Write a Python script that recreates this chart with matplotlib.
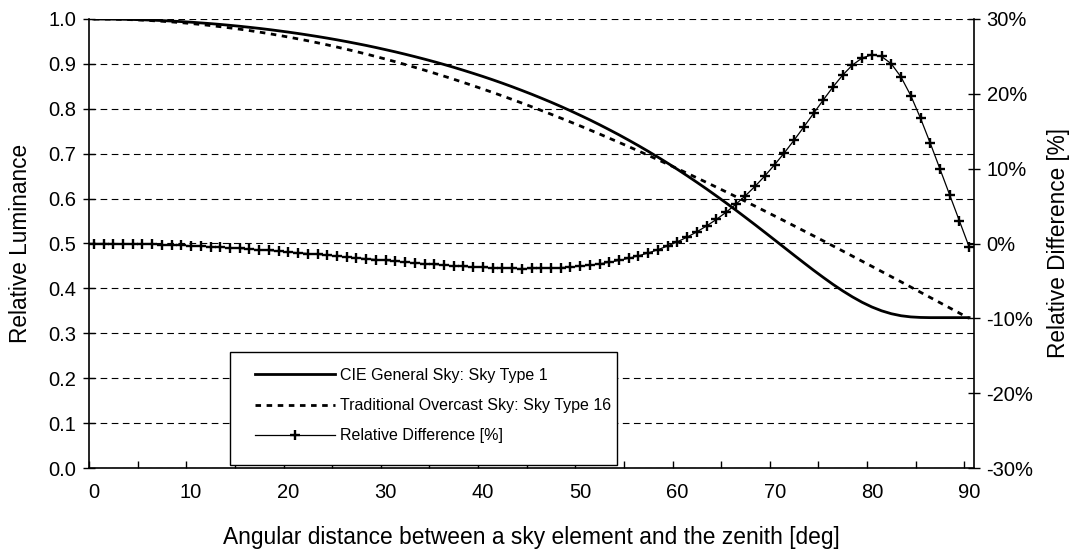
import matplotlib
matplotlib.use("Agg")
import matplotlib.pyplot as plt
from matplotlib.patches import Rectangle
from matplotlib.ticker import FuncFormatter, MultipleLocator, FixedLocator

plt.rcParams['font.family'] = ['Liberation Sans', 'DejaVu Sans']

# angular distance from the zenith, 1 degree steps
angle = list(range(0, 91))

# CIE General Sky, sky type 1 (relative luminance)
cie_sky1 = [
    1.0000, 0.9999, 0.9997, 0.9994, 0.9989, 0.9982, 0.9974, 0.9965, 0.9954, 0.9942,
    0.9929, 0.9913, 0.9897, 0.9879, 0.9859, 0.9838, 0.9815, 0.9791, 0.9765, 0.9737,
    0.9708, 0.9677, 0.9644, 0.9610, 0.9574, 0.9536, 0.9496, 0.9454, 0.9411, 0.9365,
    0.9317, 0.9268, 0.9216, 0.9162, 0.9106, 0.9048, 0.8987, 0.8924, 0.8858, 0.8790,
    0.8720, 0.8647, 0.8571, 0.8492, 0.8410, 0.8326, 0.8238, 0.8148, 0.8054, 0.7957,
    0.7856, 0.7753, 0.7645, 0.7534, 0.7420, 0.7301, 0.7179, 0.7053, 0.6923, 0.6789,
    0.6652, 0.6510, 0.6364, 0.6215, 0.6061, 0.5905, 0.5745, 0.5581, 0.5416, 0.5248,
    0.5079, 0.4909, 0.4739, 0.4571, 0.4405, 0.4245, 0.4090, 0.3945, 0.3811, 0.3690,
    0.3586, 0.3501, 0.3436, 0.3391, 0.3365, 0.3353, 0.3349, 0.3349, 0.3349, 0.3349,
    0.3349,
]

# traditional overcast sky, sky type 16
overcast_sky16 = [
    1.0000, 0.9999, 0.9996, 0.9991, 0.9984, 0.9975, 0.9963, 0.9950, 0.9935, 0.9918,
    0.9899, 0.9878, 0.9854, 0.9829, 0.9802, 0.9773, 0.9742, 0.9709, 0.9674, 0.9637,
    0.9598, 0.9557, 0.9515, 0.9470, 0.9424, 0.9375, 0.9325, 0.9273, 0.9220, 0.9164,
    0.9107, 0.9048, 0.8987, 0.8924, 0.8860, 0.8794, 0.8727, 0.8658, 0.8587, 0.8514,
    0.8440, 0.8365, 0.8288, 0.8209, 0.8129, 0.8047, 0.7964, 0.7880, 0.7794, 0.7707,
    0.7619, 0.7529, 0.7438, 0.7345, 0.7252, 0.7157, 0.7061, 0.6964, 0.6866, 0.6767,
    0.6667, 0.6565, 0.6463, 0.6360, 0.6256, 0.6151, 0.6045, 0.5938, 0.5831, 0.5722,
    0.5613, 0.5504, 0.5393, 0.5282, 0.5171, 0.5059, 0.4946, 0.4833, 0.4719, 0.4605,
    0.4491, 0.4376, 0.4261, 0.4146, 0.4030, 0.3914, 0.3798, 0.3682, 0.3566, 0.3450,
    0.3333,
]

# relative difference [%]
rel_diff = [
    0.00, -0.00, -0.01, -0.03, -0.05, -0.08, -0.11, -0.15, -0.19, -0.24,
    -0.30, -0.36, -0.43, -0.50, -0.58, -0.66, -0.75, -0.84, -0.93, -1.03,
    -1.13, -1.24, -1.34, -1.45, -1.57, -1.68, -1.80, -1.91, -2.03, -2.14,
    -2.26, -2.37, -2.48, -2.59, -2.70, -2.80, -2.89, -2.98, -3.07, -3.14,
    -3.20, -3.26, -3.30, -3.33, -3.35, -3.34, -3.33, -3.29, -3.22, -3.14,
    -3.03, -2.89, -2.71, -2.51, -2.26, -1.97, -1.64, -1.26, -0.83, -0.33,
    0.23, 0.85, 1.56, 2.34, 3.21, 4.17, 5.23, 6.39, 7.66, 9.04,
    10.53, 12.12, 13.81, 15.57, 17.38, 19.18, 20.92, 22.51, 23.85, 24.79,
    25.22, 24.99, 24.01, 22.24, 19.76, 16.74, 13.41, 9.96, 6.49, 3.02,
    -0.46,
]

W, H = 1077, 551
fig = plt.figure(figsize=(W / 100, H / 100), dpi=100)
ax = fig.add_axes([89 / W, 1 - 468 / H, 885 / W, 449 / H])
ax2 = ax.twinx()

l1, = ax.plot(angle, cie_sky1, color='black', lw=2, label='CIE General Sky: Sky Type 1')
l2, = ax.plot(angle, overcast_sky16, color='black', lw=2, ls=(0, (2, 2)),
              label='Traditional Overcast Sky: Sky Type 16')
l3, = ax2.plot(angle, rel_diff, color='black', lw=0.9, marker='+', ms=7.5, mew=1.7,
               label='Relative Difference [%]')

ax.set_xlim(-0.5, 90.5)
ax.set_ylim(0, 1)
ax2.set_ylim(-30, 30)

ax.yaxis.set_major_locator(MultipleLocator(0.1))
ax.yaxis.set_major_formatter(FuncFormatter(lambda v, p: f'{v:.1f}'))
ax.grid(axis='y', color='black', lw=0.8, ls=(0, (6, 4)))
ax.set_axisbelow(True)

# category style axis: labels every 10, tick marks between categories every 5
ax.set_xticks(range(0, 91, 10))
ax.xaxis.set_minor_locator(FixedLocator([x - 0.5 for x in range(0, 91, 5)]))
ax.tick_params(axis='x', which='major', length=0, pad=11, labelsize=14.5)
ax.tick_params(axis='x', which='minor', direction='in', length=5, width=1)
ax.tick_params(axis='y', direction='inout', length=8, width=1, pad=5, labelsize=14.5)

ax2.yaxis.set_major_locator(MultipleLocator(10))
ax2.yaxis.set_major_formatter(FuncFormatter(lambda v, p: f'{v:.0f}%'))
ax2.tick_params(axis='y', direction='inout', length=8, width=1, pad=5, labelsize=14.5)

for a in (ax, ax2):
    a.spines['top'].set_visible(False)
    for s in ('left', 'right', 'bottom'):
        a.spines[s].set_linewidth(1.2)
ax.spines['right'].set_visible(False)
ax2.spines['left'].set_visible(False)
ax2.spines['bottom'].set_visible(False)

ax.set_xlabel('Angular distance between a sky element and the zenith [deg]',
              fontsize=16.4, labelpad=17)
ax.set_ylabel('Relative Luminance', fontsize=16.3, labelpad=12)
ax2.set_ylabel('Relative Difference [%]', fontsize=16.3, labelpad=10)

leg = ax2.legend(handles=[l1, l2, l3], loc='upper left',
                 bbox_to_anchor=(255 / W, 1 - 368 / H), bbox_transform=fig.transFigure,
                 frameon=False, handlelength=5.0, handletextpad=0.3, borderpad=0,
                 labelspacing=0.95, fontsize=11.5, borderaxespad=0)
leg.set_zorder(6)
# legend box (wider on the left than on the right, as in the original)
ax2.add_patch(Rectangle((230 / W, 1 - 465 / H), 387 / W, 113 / H,
                        transform=fig.transFigure, facecolor='white',
                        edgecolor='black', lw=1.0, zorder=5, clip_on=False))

fig.savefig('out.png', dpi=100)
